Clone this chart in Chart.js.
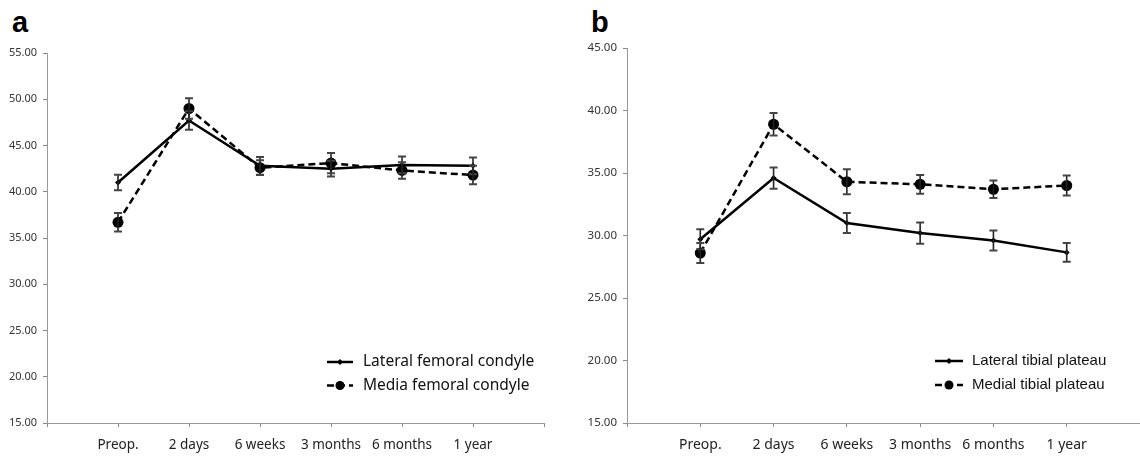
<!DOCTYPE html>
<html>
<head>
<meta charset="utf-8">
<script src="https://cdn.jsdelivr.net/npm/chart.js@4/dist/chart.umd.min.js"></script>
<style>
  body { margin: 0; background: #fff; width: 1140px; height: 457px; position: relative; overflow: hidden; }
  canvas { position: absolute; top: 0; }
  .letra { position: absolute; font: bold 29px "Liberation Sans", Arial, sans-serif; color: #000; line-height: 1; }
</style>
</head>
<body>
<div class="letra" style="left:12px; top:7.5px;">a</div>
<div class="letra" style="left:591px; top:7.5px;">b</div>
<canvas id="grafico-a" width="560" height="457" style="left:0px;"></canvas>
<canvas id="grafico-b" width="580" height="457" style="left:570px;"></canvas>
<script>
// eixo x (tempo)
const categorias = ['Preop.', '2 days', '6 weeks', '3 months', '6 months', '1 year'];

// painel a - condilos femorais
const lateralFemoral    = [41.0, 47.7, 42.8, 42.5, 42.9, 42.8];
const lateralFemoralErr = [0.85, 1.0, 0.95, 0.85, 0.9, 0.9];
const medialFemoral     = [36.7, 49.0, 42.6, 43.1, 42.3, 41.8];
const medialFemoralErr  = [1.0, 1.1, 0.8, 1.1, 0.9, 1.0];

// painel b - platos tibiais
const lateralTibial    = [29.7, 34.6, 31.0, 30.2, 29.6, 28.65];
const lateralTibialErr = [0.8, 0.85, 0.8, 0.85, 0.8, 0.75];
const medialTibial     = [28.6, 38.9, 34.3, 34.1, 33.7, 34.0];
const medialTibialErr  = [0.8, 0.9, 1.0, 0.75, 0.7, 0.8];

// ticks do eixo y
const yTicksA = [15, 20, 25, 30, 35, 40, 45, 50, 55];
const yTicksB = [15, 20, 25, 30, 35, 40, 45];

// barras de erro desenhadas com as escalas do proprio grafico
const barrasErro = {
  id: 'barrasErro',
  afterDatasetsDraw(chart) {
    const ctx = chart.ctx;
    const xs = chart.scales.x, ys = chart.scales.y;
    chart.data.datasets.forEach(ds => {
      ds.data.forEach((v, i) => {
        if (v === null) return;
        const e = ds.erros[i - 1];
        const x = xs.getPixelForValue(i);
        const yTop = ys.getPixelForValue(v + e);
        const yBot = ys.getPixelForValue(v - e);
        ctx.save();
        ctx.strokeStyle = '#222';
        ctx.lineWidth = 1.6;
        ctx.beginPath();
        ctx.moveTo(x, yTop); ctx.lineTo(x, yBot);
        ctx.stroke();
        ctx.strokeStyle = '#444';
        ctx.lineWidth = 2;
        ctx.beginPath();
        ctx.moveTo(x - 4, yTop); ctx.lineTo(x + 4, yTop);
        ctx.moveTo(x - 4, yBot); ctx.lineTo(x + 4, yBot);
        ctx.stroke();
        ctx.restore();
      });
    });
  }
};

// legenda dentro da area do grafico
const legendaInterna = {
  id: 'legendaInterna',
  afterDraw(chart, args, opts) {
    const ctx = chart.ctx;
    chart.data.datasets.forEach((ds, k) => {
      const y = opts.y + k * opts.dy;
      ctx.save();
      ctx.strokeStyle = '#000';
      ctx.lineWidth = 2.5;
      ctx.setLineDash(ds.borderDash || []);
      ctx.beginPath();
      ctx.moveTo(opts.x, y); ctx.lineTo(opts.x + opts.linha, y);
      ctx.stroke();
      ctx.setLineDash([]);
      ctx.fillStyle = '#000';
      const cx = opts.x + opts.linha / 2;
      if (ds.pointStyle === 'circle') {
        ctx.beginPath(); ctx.arc(cx, y, 4.5, 0, Math.PI * 2); ctx.fill();
      } else {
        ctx.beginPath();
        ctx.moveTo(cx, y - 3); ctx.lineTo(cx + 3, y); ctx.lineTo(cx, y + 3); ctx.lineTo(cx - 3, y);
        ctx.closePath(); ctx.fill();
      }
      ctx.font = opts.font;
      ctx.textBaseline = 'middle';
      ctx.fillStyle = '#111';
      ctx.fillText(ds.label, opts.x + opts.texto, y);
      ctx.restore();
    });
  }
};

function criarGrafico(idGrafico, series, yTicks, layout) {
  var ctx = document.getElementById(idGrafico).getContext('2d');
  var labels = [''].concat(categorias, ['']);
  return new Chart(ctx, {
    type: 'line',
    data: {
      labels: labels,
      datasets: series.map(s => ({
        label: s.label,
        data: [null].concat(s.dados, [null]),
        erros: s.erros,
        borderColor: '#000',
        backgroundColor: '#000',
        borderWidth: 2.5,
        borderDash: s.tracejado ? [7, 4] : [],
        pointStyle: s.tracejado ? 'circle' : 'rectRot',
        pointRadius: s.tracejado ? 5.5 : 3,
        pointBackgroundColor: '#000',
        pointBorderWidth: 0,
        tension: 0
      }))
    },
    options: {
      responsive: false,
      animation: false,
      layout: { padding: layout.padding },
      plugins: {
        legend: { display: false },
        tooltip: { enabled: false },
        legendaInterna: layout.legenda
      },
      scales: {
        x: {
          grid: { drawOnChartArea: false, tickLength: 4, color: '#888' },
          border: { color: '#999', width: 1 },
          ticks: { autoSkip: false, maxRotation: 0, padding: 10, color: '#222',
                   font: { family: '"Noto Sans", sans-serif', size: layout.fonteX } },
          afterFit: s => { s.height = 34; }
        },
        y: {
          min: yTicks[0],
          max: yTicks[yTicks.length - 1],
          afterBuildTicks: s => { s.ticks = yTicks.map(v => ({ value: v })); },
          grid: { drawOnChartArea: false, tickLength: 4, color: '#888' },
          border: { color: '#999', width: 1 },
          ticks: { padding: 6, color: '#333', font: { family: '"Noto Sans", sans-serif', size: layout.fonteY },
                   callback: v => Number(v).toFixed(2) },
          afterFit: s => { s.width = layout.larguraY; }
        }
      }
    },
    plugins: [barrasErro, legendaInterna]
  });
}

criarGrafico('grafico-a', [
  { label: 'Lateral femoral condyle', dados: lateralFemoral, erros: lateralFemoralErr, tracejado: false },
  { label: 'Media femoral condyle', dados: medialFemoral, erros: medialFemoralErr, tracejado: true }
], yTicksA, {
  padding: { left: 0, top: 53, right: 16, bottom: 0 },
  larguraY: 47,
  fonteX: 13.5,
  fonteY: 11,
  legenda: { x: 327, y: 362, dy: 23.5, linha: 26, texto: 36, font: '15.5px "Noto Sans", sans-serif' }
});

criarGrafico('grafico-b', [
  { label: 'Lateral tibial plateau', dados: lateralTibial, erros: lateralTibialErr, tracejado: false },
  { label: 'Medial tibial plateau', dados: medialTibial, erros: medialTibialErr, tracejado: true }
], yTicksB, {
  padding: { left: 0, top: 48, right: 3, bottom: 0 },
  larguraY: 57,
  fonteX: 14,
  fonteY: 11.5,
  legenda: { x: 365, y: 361, dy: 24, linha: 28, texto: 37, font: '15px "Liberation Sans", Arial, sans-serif' }
});
</script>
</body>
</html>
